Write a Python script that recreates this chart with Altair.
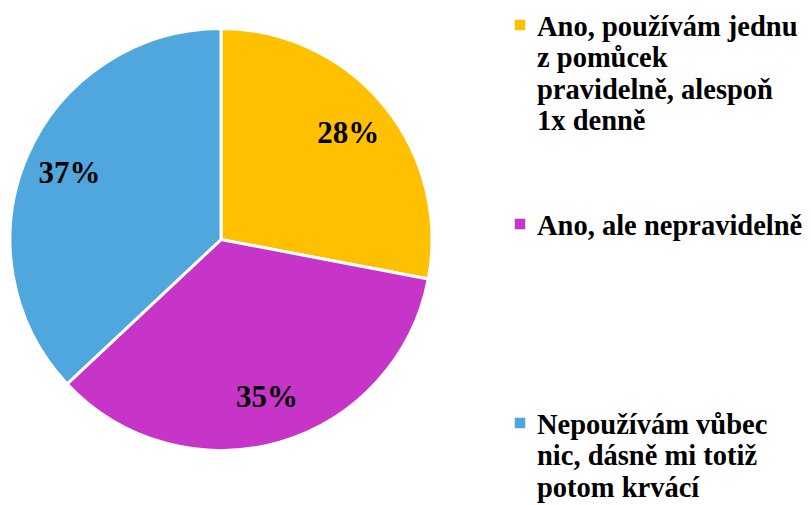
import altair as alt
import pandas as pd

categories = [
    "Ano, používám jednu z pomůcek pravidelně, alespoň 1x denně",
    "Ano, ale nepravidelně",
    "Nepoužívám vůbec nic, dásně mi totiž potom krvácí",
]
legend_lines = [
    ["Ano, používám jednu", "z pomůcek", "pravidelně, alespoň", "1x denně"],
    ["Ano, ale nepravidelně"],
    ["Nepoužívám vůbec", "nic, dásně mi totiž", "potom krvácí"],
]
values = [28, 35, 37]
colors = ["#FFC000", "#C634C8", "#4FA7DD"]

df = pd.DataFrame({
    "cat": categories,
    "value": values,
    "idx": list(range(len(categories))),
    "label": [f"{v}%" for v in values],
    "lines": legend_lines,
})

color_scale = alt.Scale(domain=categories, range=colors)
FONT = "Liberation Serif"

base = alt.Chart(df)

arcs = base.mark_arc(stroke="white", strokeWidth=3).encode(
    theta=alt.Theta("value:Q", stack=True),
    order=alt.Order("idx:Q"),
    color=alt.Color("cat:N", scale=color_scale, legend=None),
    x=alt.value(213),
    y=alt.value(231.5),
    radius=alt.value(211),
)

labels = base.mark_text(
    font=FONT, fontSize=31, fontWeight="bold", color="black", baseline="middle", align="center"
).encode(
    theta=alt.Theta("value:Q", stack=True),
    order=alt.Order("idx:Q"),
    text="label:N",
    x=alt.value(213),
    y=alt.value(231.5),
    radius=alt.value(165),
)

leg_y = alt.Y("idx:Q", scale=alt.Scale(domain=[0, 2], range=[17, 415]), axis=None)

leg_sq = base.mark_square(size=110, opacity=1).encode(
    x=alt.value(512),
    y=leg_y,
    color=alt.Color("cat:N", scale=color_scale, legend=None),
)

leg_txt = base.mark_text(
    font=FONT, fontSize=28.5, fontWeight="bold", color="black",
    align="left", baseline="alphabetic", dy=10.5, lineHeight=31.5,
).encode(
    x=alt.value(529),
    y=leg_y,
    text="lines",
)

chart = alt.layer(arcs, labels, leg_sq, leg_txt).properties(
    width=795, height=497, autosize="none", padding=0
).configure_view(stroke=None)

chart.save("out.html", embed_options={"renderer": "svg", "actions": False})
